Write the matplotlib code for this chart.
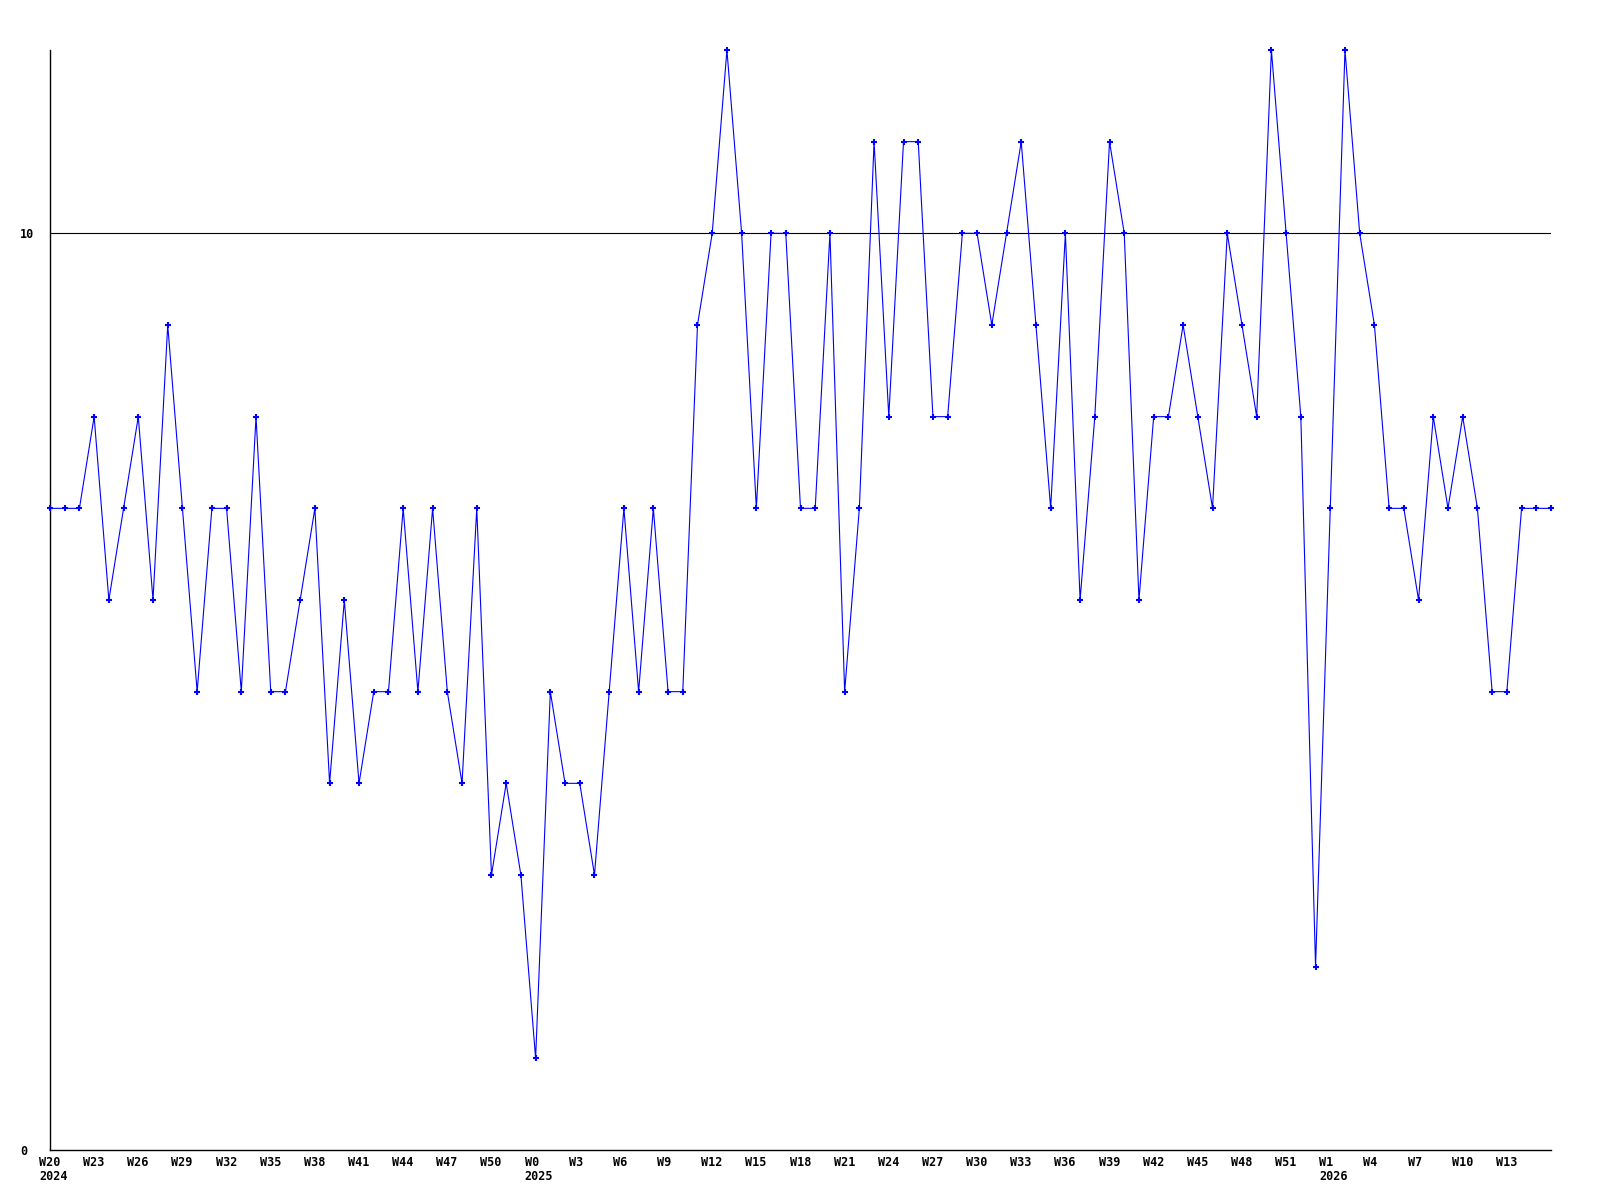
import matplotlib
matplotlib.use("Agg")
import matplotlib.pyplot as plt
from matplotlib.transforms import ScaledTranslation

# Weekly values, W20 2024 .. W16 2026
values = [7, 7, 7, 8, 6, 7, 8, 6, 9, 7,
          5, 7, 7, 5, 8, 5, 5, 6, 7, 4,
          6, 4, 5, 5, 7, 5, 7, 5, 4, 7,
          3, 4, 3, 1, 5, 4, 4, 3, 5, 7,
          5, 7, 5, 5, 9, 10, 12, 10, 7, 10,
          10, 7, 7, 10, 5, 7, 11, 8, 11, 11,
          8, 8, 10, 10, 9, 10, 11, 9, 7, 10,
          6, 8, 11, 10, 6, 8, 8, 9, 8, 7,
          10, 9, 8, 12, 10, 8, 2, 7, 12, 10,
          9, 7, 7, 6, 8, 7, 8, 7, 5, 5,
          7, 7, 7]

tick_labels = ["W20\n2024", "W23", "W26", "W29", "W32", "W35", "W38", "W41",
               "W44", "W47", "W50", "W0\n2025", "W3", "W6", "W9", "W12", "W15",
               "W18", "W21", "W24", "W27", "W30", "W33", "W36", "W39", "W42",
               "W45", "W48", "W51", "W1\n2026", "W4", "W7", "W10", "W13"]
y_ticks = [0, 10]
threshold = 10

x = list(range(len(values)))
tick_pos = list(range(0, 3 * len(tick_labels), 3))

fig = plt.figure(figsize=(16, 12), dpi=100)
ax = fig.add_axes([50 / 1600, 50 / 1200, 1501 / 1600, 1100 / 1200])

ax.plot(x, values, color="#0000ff", linewidth=0.8, marker="+",
        markersize=4, markeredgewidth=1.5, clip_on=False, zorder=3)
ax.axhline(threshold, color="black", linewidth=0.8, zorder=2)

ax.set_xlim(0, len(values) - 1)
ax.set_ylim(0, 12)
for s in ["top", "right"]:
    ax.spines[s].set_visible(False)
for s in ["left", "bottom"]:
    ax.spines[s].set_linewidth(1.0)

font = dict(family="DejaVu Sans Mono", weight="bold", size=8.5)

ax.set_xticks(tick_pos)
ax.set_xticklabels(tick_labels, **font)
ax.tick_params(axis="x", length=0, pad=4.5)
off = ScaledTranslation(-11 / 100, 0, fig.dpi_scale_trans)
for lab in ax.get_xticklabels():
    lab.set_horizontalalignment("left")
    lab.set_multialignment("left")
    lab.set_linespacing(1.1)
    lab.set_transform(lab.get_transform() + off)

ax.set_yticks(y_ticks)
ax.set_yticklabels([str(v) for v in y_ticks], **font)
ax.tick_params(axis="y", length=0, pad=0)
yoff = ScaledTranslation(-30 / 100, 0, fig.dpi_scale_trans)
for lab in ax.get_yticklabels():
    lab.set_horizontalalignment("left")
    lab.set_transform(lab.get_transform() + yoff)

fig.savefig("out.png", dpi=100, facecolor="white")
